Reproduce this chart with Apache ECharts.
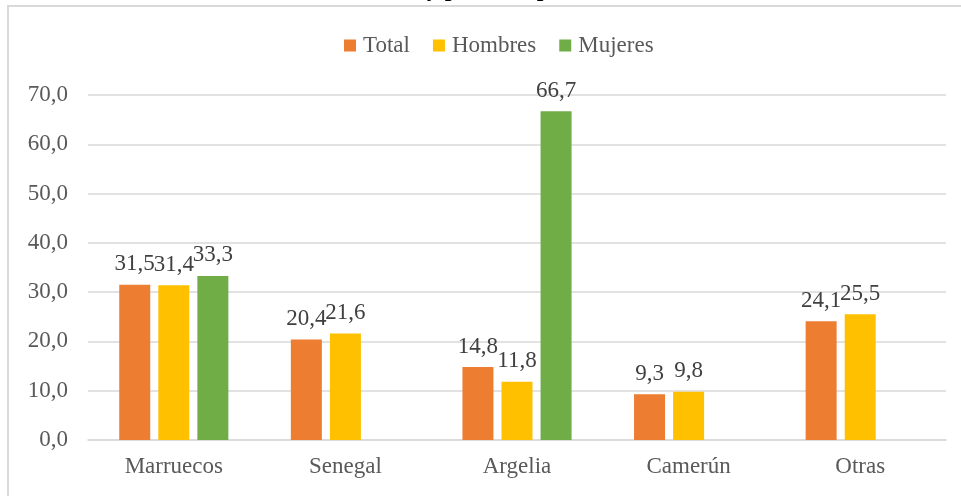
<!DOCTYPE html>
<html>
<head>
<meta charset="utf-8">
<script src="https://cdn.jsdelivr.net/npm/echarts@6/dist/echarts.min.js"></script>
<style>
  html, body { margin: 0; padding: 0; background: #fff; }
  #chart { width: 961px; height: 496px; }
</style>
</head>
<body>
<div id="chart"></div>
<script>
// datos
const paises = ['Marruecos', 'Senegal', 'Argelia', 'Camerún', 'Otras'];
const total = [31.5, 20.4, 14.8, 9.3, 24.1];
const hombres = [31.4, 21.6, 11.8, 9.8, 25.5];
const mujeres = [33.3, null, 66.7, null, null];

const fmt = v => v.toFixed(1).replace('.', ',');
const font = '"Liberation Serif", "DejaVu Serif", serif';

const chart = echarts.init(document.getElementById('chart'));

function serie (name, data, color) {
  return {
    name: name,
    type: 'bar',
    data: data,
    barWidth: 31,
    barGap: '26%',
    itemStyle: { color: color },
    label: {
      show: true,
      position: 'top',
      distance: 9,
      fontFamily: font,
      fontSize: 23,
      color: '#404040',
      formatter: p => fmt(p.value)
    }
  };
}

chart.setOption({
  animation: false,
  textStyle: { fontFamily: font },
  graphic: [
    { // marco del gráfico
      type: 'rect',
      shape: { x: 8, y: 6, width: 1000, height: 600 },
      style: { fill: 'none', stroke: '#d9d9d9', lineWidth: 2 }
    },
    { // título (recortado arriba)
      type: 'text',
      left: 321,
      top: -22,
      style: {
        text: 'Tasa total y por sexo por nacionalidad',
        font: 'bold 24px ' + font,
        fill: '#000'
      }
    }
  ],
  legend: {
    top: 29,
    left: 339,
    itemWidth: 12,
    itemHeight: 12,
    itemGap: 23,
    icon: 'rect',
    textStyle: { fontFamily: font, fontSize: 23, color: '#595959', padding: [0, 0, 0, 2] },
    data: ['Total', 'Hombres', 'Mujeres']
  },
  grid: { left: 88, right: 15, top: 95, bottom: 56 },
  xAxis: {
    type: 'category',
    data: paises,
    axisTick: { show: false },
    axisLine: { lineStyle: { color: '#d9d9d9', width: 1.5 } },
    axisLabel: { margin: 15, fontFamily: font, fontSize: 23, color: '#595959' }
  },
  yAxis: {
    type: 'value',
    min: 0,
    max: 70,
    interval: 10,
    axisLine: { show: false },
    axisTick: { show: false },
    splitLine: { lineStyle: { color: '#d9d9d9', width: 1.5 } },
    axisLabel: { margin: 20, fontFamily: font, fontSize: 23, color: '#595959', formatter: v => fmt(v) }
  },
  series: [
    serie('Total', total, '#ED7D31'),
    serie('Hombres', hombres, '#FFC000'),
    serie('Mujeres', mujeres, '#70AD47')
  ]
});
</script>
</body>
</html>
